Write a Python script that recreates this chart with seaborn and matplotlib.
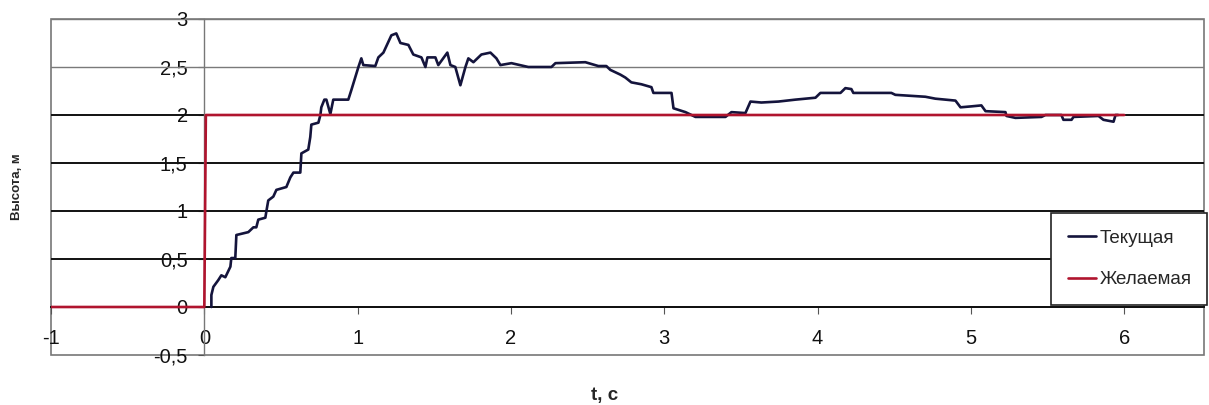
import numpy as np
import pandas as pd
import matplotlib
matplotlib.use("Agg")
import matplotlib.pyplot as plt
from matplotlib.patches import Rectangle
from matplotlib.ticker import FixedLocator, FixedFormatter
import seaborn as sns

# ---- data ----
t_current = [0.046, 0.046, 0.059, 0.091, 0.111, 0.137, 0.170, 0.176, 0.202, 0.209,
             0.287, 0.320, 0.339, 0.352, 0.398, 0.404, 0.417, 0.450, 0.470, 0.535,
             0.561, 0.581, 0.626, 0.633, 0.678, 0.691, 0.698, 0.744, 0.757, 0.763,
             0.783, 0.796, 0.822, 0.841, 0.939, 0.959, 1.005, 1.024, 1.037, 1.115,
             1.135, 1.168, 1.220, 1.252, 1.279, 1.331, 1.363, 1.416, 1.442, 1.455,
             1.507, 1.526, 1.585, 1.605, 1.637, 1.670, 1.703, 1.722, 1.755, 1.807,
             1.866, 1.905, 1.931, 2.003, 2.113, 2.264, 2.290, 2.485, 2.570, 2.622,
             2.648, 2.714, 2.746, 2.785, 2.851, 2.916, 2.929, 3.047, 3.060, 3.138,
             3.203, 3.399, 3.438, 3.529, 3.562, 3.633, 3.744, 3.855, 3.986, 4.018,
             4.149, 4.181, 4.220, 4.233, 4.481, 4.507, 4.703, 4.768, 4.899, 4.932,
             5.003, 5.068, 5.095, 5.225, 5.232, 5.290, 5.460, 5.486, 5.590, 5.603,
             5.656, 5.669, 5.832, 5.864, 5.930, 5.943, 5.960]
h_current = [0.00, 0.125, 0.21, 0.28, 0.33, 0.31, 0.42, 0.51, 0.51, 0.75,
             0.78, 0.83, 0.83, 0.91, 0.93, 0.99, 1.11, 1.15, 1.22, 1.25,
             1.35, 1.40, 1.40, 1.60, 1.64, 1.77, 1.90, 1.92, 2.00, 2.08,
             2.16, 2.16, 2.01, 2.16, 2.16, 2.26, 2.50, 2.59, 2.52, 2.51,
             2.60, 2.65, 2.83, 2.85, 2.75, 2.73, 2.63, 2.60, 2.50, 2.60,
             2.60, 2.52, 2.65, 2.52, 2.50, 2.31, 2.50, 2.59, 2.55, 2.63,
             2.65, 2.59, 2.52, 2.54, 2.50, 2.50, 2.54, 2.55, 2.51, 2.51,
             2.47, 2.42, 2.39, 2.34, 2.32, 2.29, 2.23, 2.23, 2.07, 2.03,
             1.98, 1.98, 2.03, 2.02, 2.14, 2.13, 2.14, 2.16, 2.18, 2.23,
             2.23, 2.28, 2.27, 2.23, 2.23, 2.21, 2.19, 2.17, 2.15, 2.08,
             2.09, 2.10, 2.04, 2.03, 1.99, 1.97, 1.98, 2.00, 2.00, 1.95,
             1.95, 1.98, 1.99, 1.95, 1.93, 2.00, 2.00]

t_desired = [-1.0, 0.0, 0.01, 6.0]
h_desired = [0.0, 0.0, 2.0, 2.0]

series_names = ["Текущая", "Желаемая"]
x_ticks = [-1, 0, 1, 2, 3, 4, 5, 6]
x_tick_labels = ["-1", "0", "1", "2", "3", "4", "5", "6"]
y_ticks = [-0.5, 0, 0.5, 1, 1.5, 2, 2.5, 3]
y_tick_labels = ["-0,5", "0", "0,5", "1", "1,5", "2", "2,5", "3"]
x_label = "t, c"
y_label = "Высота, м"

# ---- style ----
sns.set_style("white")
plt.rcParams["font.family"] = ["Liberation Sans", "DejaVu Sans"]

df = pd.concat([
    pd.DataFrame({"t": t_current, "h": h_current, "s": series_names[0]}),
    pd.DataFrame({"t": t_desired, "h": h_desired, "s": series_names[1]}),
], ignore_index=True)

fig = plt.figure(figsize=(12.09, 4.05), dpi=100)
ax = fig.add_axes([51 / 1209, 1 - 355 / 405, (1204 - 51) / 1209, (355 - 19) / 405])

palette = {series_names[0]: "#14143c", series_names[1]: "#b0142e"}
sns.lineplot(data=df, x="t", y="h", hue="s", palette=palette, sort=False,
             estimator=None, linewidth=1.9, ax=ax, legend=True, zorder=3)

ax.set_xlim(-1, 6.52)
ax.set_ylim(-0.5, 3)

# gridlines
ax.set_axisbelow(True)
for yv in [0, 0.5, 1, 1.5, 2]:
    ax.axhline(yv, color="#111111", lw=1.4, zorder=1)
for yv in [2.5, 3]:
    ax.axhline(yv, color="#7a7a7a", lw=1.0, zorder=1)

# axes crossing at zero
for side in ["top", "right"]:
    ax.spines[side].set_visible(False)
ax.spines["left"].set_position(("data", 0))
ax.spines["bottom"].set_position(("data", 0))
ax.spines["left"].set_color("#777777")
ax.spines["left"].set_linewidth(1.0)
ax.spines["bottom"].set_color("#111111")
ax.spines["bottom"].set_linewidth(1.4)

# outer frame
ax.add_patch(Rectangle((0, 0), 1, 1, transform=ax.transAxes, fill=False,
                       edgecolor="#777777", lw=1.2, clip_on=False, zorder=0))

ax.xaxis.set_major_locator(FixedLocator(x_ticks))
ax.xaxis.set_major_formatter(FixedFormatter(x_tick_labels))
ax.yaxis.set_major_locator(FixedLocator(y_ticks))
ax.yaxis.set_major_formatter(FixedFormatter(y_tick_labels))
ax.tick_params(axis="x", direction="out", length=5, width=0.8, color="#555555",
               pad=11, labelsize=14.5, labelcolor="#111111", bottom=True)
ax.tick_params(axis="y", direction="out", length=4, width=0.8, color="#555555",
               pad=8, labelsize=14.5, labelcolor="#111111", left=True)

ax.set_xlabel(x_label, fontsize=13.5, fontweight="bold")
ax.xaxis.set_label_coords((605 - 51) / 1153, -0.095)
ax.set_ylabel(y_label, fontsize=9.5, fontweight="bold")
ax.yaxis.set_label_coords(-0.024, 0.5)

# legend
leg = ax.legend(loc="center", bbox_to_anchor=(0.867, 0.143, 0.136, 0.286),
                mode="expand", frameon=True, fancybox=False, framealpha=1,
                edgecolor="#222222", fontsize=13.5, handlelength=1.5,
                handletextpad=0.2, labelspacing=1.3, borderpad=0.9,
                borderaxespad=0)
leg.get_frame().set_linewidth(1.2)
leg.set_zorder(5)

fig.savefig("out.png", dpi=100)
